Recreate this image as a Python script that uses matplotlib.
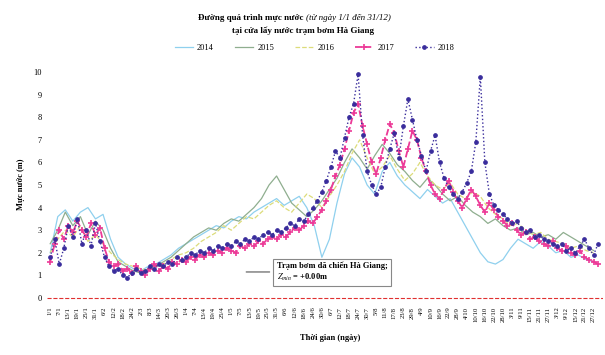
import numpy as np
import pandas as pd
import matplotlib
matplotlib.use("Agg")
import matplotlib.pyplot as plt

plt.rcParams['font.family'] = ['Liberation Serif', 'DejaVu Serif']
plt.rcParams['mathtext.fontset'] = 'stix'

# Daily water level (m) at the intake, sampled every 5 days (2014-2016) and every 3 days (2017-2018)
level_2014 = [2.0, 3.6, 3.9, 3.4, 3.8, 4.0, 3.5, 3.7, 2.6, 1.8, 1.5, 1.3, 1.2, 1.4, 1.5, 1.7,
              1.9, 2.2, 2.4, 2.6, 2.8, 3.0, 3.2, 3.1, 3.4, 3.6, 3.5, 3.8, 4.0, 4.2, 4.4, 4.1,
              4.3, 4.5, 4.0, 3.2, 1.8, 2.6, 4.2, 5.5, 6.2, 5.8, 5.0, 4.6, 5.6, 6.0, 5.4, 5.0,
              4.7, 4.4, 4.8, 4.5, 4.2, 4.4, 3.8, 3.2, 2.6, 2.0, 1.6, 1.5, 1.7, 2.2, 2.6, 2.4,
              2.2, 2.5, 2.3, 2.0, 2.1, 1.8, 1.9, 1.7, 1.6]
level_2015 = [2.4, 3.0, 3.8, 3.2, 3.6, 2.8, 3.4, 3.0, 2.2, 1.6, 1.4, 1.2, 1.1, 1.3, 1.4, 1.6,
              1.8, 2.1, 2.4, 2.7, 2.9, 3.1, 3.0, 3.3, 3.5, 3.4, 3.7, 4.0, 4.4, 5.0, 5.4, 4.8,
              4.2, 3.9, 3.6, 3.9, 4.3, 4.8, 5.3, 6.0, 6.6, 6.2, 5.7, 6.3, 6.8, 6.4, 5.9, 5.6,
              5.2, 4.9, 5.3, 5.0, 4.6, 4.3, 4.5, 4.1, 3.8, 3.6, 3.3, 3.5, 3.2, 3.0, 3.1, 2.8,
              2.9, 2.7, 2.8, 2.6, 2.9, 2.7, 2.5, 2.3, 2.1]
level_2016 = [2.0, 2.6, 3.0, 2.7, 3.2, 2.5, 2.8, 2.4, 2.0, 1.7, 1.5, 1.4, 1.3, 1.2, 1.4, 1.5,
              1.7, 1.9, 2.0, 2.2, 2.5, 2.7, 2.9, 3.2, 3.0, 3.3, 3.6, 3.5, 3.8, 4.1, 4.3, 4.0,
              3.8, 4.2, 4.6, 4.4, 4.0, 4.5, 5.0, 5.6, 6.4, 7.0, 6.2, 5.5, 5.8, 6.3, 5.7, 5.2,
              5.5, 6.0, 5.4, 5.0, 4.8, 5.1, 4.6, 4.4, 4.7, 4.5, 4.0, 3.7, 3.5, 3.2, 3.3, 3.0,
              2.8, 2.9, 2.6, 2.5, 2.4, 2.2, 2.3, 2.1, 2.0]
level_2017 = [1.6, 2.4, 3.0, 2.6, 3.2, 2.9, 3.4, 3.0, 2.7, 3.3,
              2.8, 3.1, 2.2, 1.6, 1.4, 1.5, 1.2, 1.3, 1.1, 1.4,
              1.2, 1.0, 1.3, 1.5, 1.2, 1.4, 1.3, 1.6, 1.5, 1.7,
              1.6, 1.8, 1.7, 1.9, 1.8, 2.0, 1.9, 2.1, 2.0, 2.2,
              2.1, 2.0, 2.3, 2.2, 2.4, 2.3, 2.5, 2.4, 2.6, 2.7,
              2.6, 2.8, 2.7, 2.9, 3.1, 3.0, 3.2, 3.4, 3.3, 3.6,
              3.9, 4.3, 4.8, 5.4, 5.9, 6.6, 7.4, 8.2, 8.6, 7.6,
              6.8, 6.0, 5.5, 6.2, 7.0, 7.7, 7.3, 6.5, 5.8, 6.6,
              7.4, 7.0, 6.2, 5.6, 5.0, 4.6, 4.4, 4.8, 5.2, 4.7,
              4.3, 4.0, 4.4, 4.8, 4.5, 4.1, 3.8, 4.2, 3.9, 3.6,
              3.4, 3.2, 3.3, 3.0, 2.8, 2.9, 2.6, 2.7, 2.5, 2.4,
              2.3, 2.5, 2.2, 2.1, 2.3, 2.0, 1.9, 2.1, 1.8, 1.7,
              1.6, 1.5]
level_2018 = [1.8, 2.6, 1.5, 2.2, 3.2, 2.7, 3.5, 2.4, 3.0, 2.3,
              3.3, 2.5, 1.8, 1.4, 1.2, 1.3, 1.0, 0.9, 1.1, 1.3,
              1.1, 1.2, 1.4, 1.3, 1.5, 1.4, 1.6, 1.5, 1.8, 1.7,
              1.8, 2.0, 1.9, 2.1, 2.0, 2.2, 2.1, 2.3, 2.2, 2.4,
              2.3, 2.5, 2.4, 2.6, 2.5, 2.7, 2.6, 2.8, 2.9, 2.8,
              3.0, 2.9, 3.1, 3.3, 3.2, 3.5, 3.4, 3.7, 4.0, 4.3,
              4.7, 5.2, 5.8, 6.5, 6.2, 7.1, 8.0, 8.6, 9.9, 7.2,
              5.6, 5.0, 4.6, 4.9, 5.8, 6.6, 7.3, 6.2, 7.6, 8.8,
              7.9, 7.0, 6.3, 5.6, 6.5, 7.2, 6.0, 5.3, 4.9, 4.6,
              4.4, 4.7, 5.1, 5.6, 6.9, 9.8, 6.0, 4.6, 4.1, 3.9,
              3.7, 3.5, 3.3, 3.4, 3.1, 2.9, 3.0, 2.7, 2.8, 2.6,
              2.5, 2.4, 2.3, 2.4, 2.1, 2.2, 2.0, 2.3, 2.6, 2.2,
              1.9, 2.4]

years = ["2014", "2015", "2016", "2017", "2018"]
series = [level_2014, level_2015, level_2016, level_2017, level_2018]
steps = [5, 5, 5, 3, 3]
colors = ["#8fd0ee", "#8fae8f", "#dcdc7a", "#ec3a97", "#3a2d9c"]
styles = [dict(ls="-", lw=0.9),
          dict(ls="-", lw=0.9),
          dict(ls="--", lw=0.9),
          dict(ls="--", lw=1.3, marker="+", ms=4, mew=1.2),
          dict(ls=":", lw=1.0, marker="o", ms=2.4)]

z_min = 0.0
station = "Trạm bơm dã chiến Hà Giang;"

start = pd.Timestamp("2018-01-01")
end = pd.Timestamp("2018-12-31")

fig = plt.figure(figsize=(6.05, 3.55), dpi=100)
ax = fig.add_axes([0.078, 0.148, 0.918, 0.668])

for name, vals, step, col, st in zip(years, series, steps, colors, styles):
    dates = start + pd.to_timedelta(np.arange(len(vals)) * step, unit="D")
    ax.plot(dates, vals, color=col, label=name, **st)

ax.axhline(z_min, color="#e03030", ls="--", lw=0.8, zorder=1)

ax.set_xlim(start - pd.Timedelta(days=2), end + pd.Timedelta(days=2))
ax.set_ylim(-0.2, 10.3)
ax.set_yticks(range(0, 11))
ax.tick_params(axis="y", length=0, labelsize=6, pad=4)

tick_dates = pd.date_range(start, end, freq="6D")
ax.set_xticks(tick_dates)
ax.set_xticklabels([f"{d.day}/{d.month}" for d in tick_dates], rotation=90, fontsize=4.8)
ax.tick_params(axis="x", length=0, pad=3)

for s in ax.spines.values():
    s.set_visible(False)

ax.set_ylabel("Mực nước (m)", fontsize=6, fontweight="bold", labelpad=6)
fig.text(0.545, 0.042, "Thời gian (ngày)", fontsize=6, fontweight="bold", ha="center")

# Title: bold first part, italic period in brackets
fig.text(0.505, 0.944, "Đường quá trình mực nước ", fontsize=6.5, fontweight="bold", ha="right")
fig.text(0.505, 0.944, "(từ ngày 1/1 đến 31/12)", fontsize=6.5, style="italic", ha="left")
fig.text(0.5, 0.907, "tại cửa lấy nước trạm bơm Hà Giang", fontsize=6.5, fontweight="bold", ha="center")

fig.legend(loc="center", bbox_to_anchor=(0.52, 0.866), ncol=5, frameon=False, fontsize=6,
           handlelength=2.2, columnspacing=2.5, handletextpad=0.5)

ax.annotate(station + "\n" + r"$Z_{min}$" + f" = +{z_min:.2f}m",
            xy=(start + pd.Timedelta(days=128), 1.15),
            xytext=(start + pd.Timedelta(days=150), 1.15),
            fontsize=6, fontweight="bold", ha="left", va="center",
            bbox=dict(boxstyle="square,pad=0.45", fc="white", ec="#888888", lw=0.8),
            arrowprops=dict(arrowstyle="-", color="#555555", lw=0.8))

fig.savefig("out.png", dpi=100)
